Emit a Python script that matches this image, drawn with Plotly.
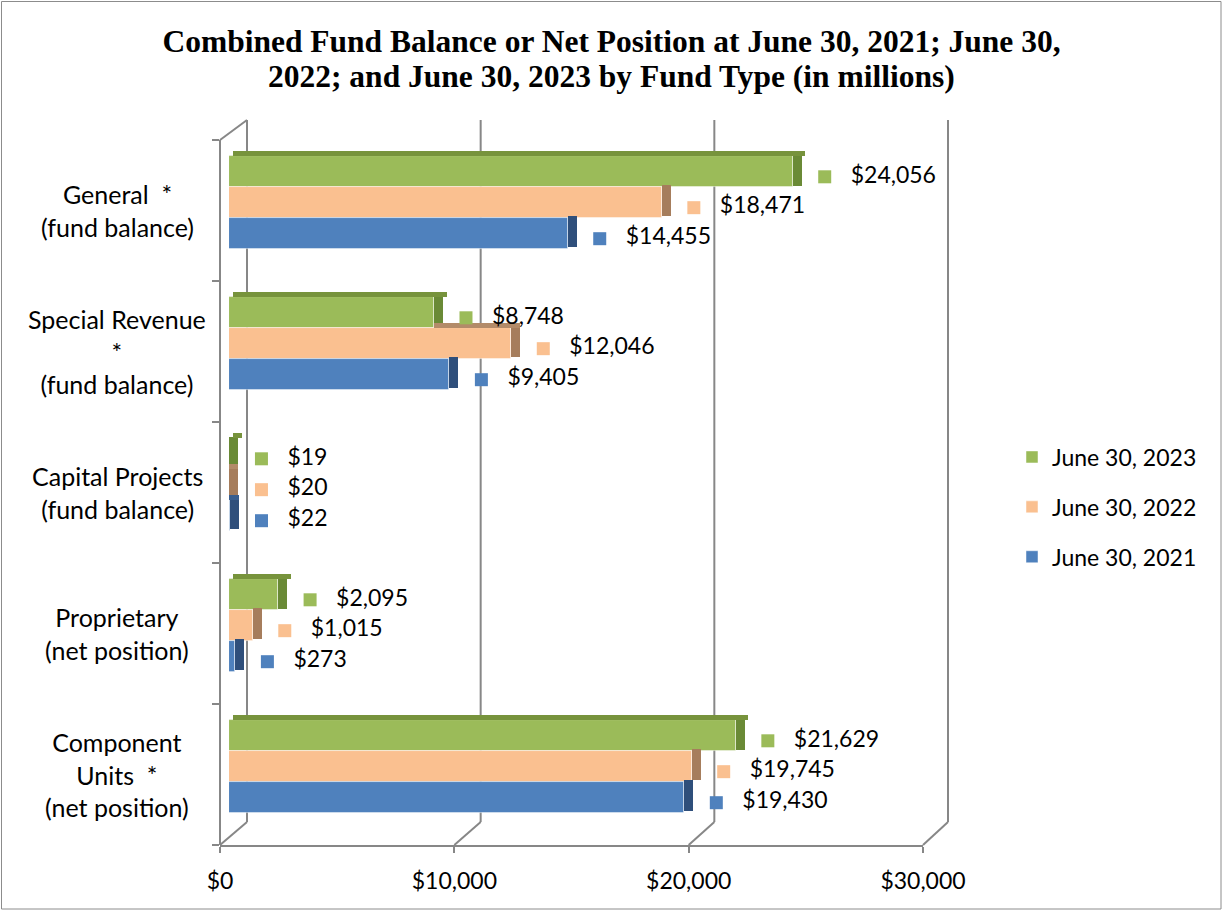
import plotly.graph_objects as go

# ---------------- data ----------------
categories = ["General", "Special Revenue", "Capital Projects", "Proprietary", "Component Units"]
category_labels = [
    "General\u00a0\u00a0*<br>(fund balance)",
    "Special Revenue<br>*<br>(fund balance)",
    "Capital Projects<br>(fund balance)",
    "Proprietary<br>(net position)",
    "Component<br>Units\u00a0\u00a0*<br>(net position)",
]
series_names = ["June 30, 2023", "June 30, 2022", "June 30, 2021"]
values_2023 = [24056, 8748, 19, 2095, 21629]
values_2022 = [18471, 12046, 20, 1015, 19745]
values_2021 = [14455, 9405, 22, 273, 19430]
x_tick_values = [0, 10000, 20000, 30000]
x_tick_labels = ["$0", "$10,000", "$20,000", "$30,000"]
title_line1 = "Combined Fund Balance or Net Position at June 30, 2021; June 30,"
title_line2 = "2022; and June 30, 2023 by Fund Type (in millions)"

# ---------------- styling ----------------
W, H = 1223, 911
ML, MR, MT, MB = 220, 300, 140, 66
PW, PH = W - ML - MR, H - MT - MB
FONT = "Lato"
front_colors = ["#9BBB59", "#FAC090", "#4F81BD"]
side_colors = ["#6A8A36", "#A67D5C", "#2F4F7B"]
top_colors = ["#77933C", "#B38B69", "#3A5F8F"]
frame_color = "#878787"
bar_offsets = [-0.277, -0.058, 0.162]
bar_w = 0.22
depth_px = 9
unit_per_px = 30000 / PW
side_w = depth_px * unit_per_px
top_h = 5 / (PH / 5)
title_font = dict(family="Liberation Serif", size=31.5, color="black", weight="bold")

series_values = [values_2023, values_2022, values_2021]
cat_idx = list(range(len(categories)))

fig = go.Figure()

# empty trace so the front (tick) axis subplot exists
fig.add_trace(go.Scatter(x=[], y=[], xaxis="x", yaxis="y", showlegend=False, hoverinfo="skip"))

# front faces
for k, (name, vals) in enumerate(zip(series_names, series_values)):
    fig.add_trace(go.Bar(
        y=[i + bar_offsets[k] for i in cat_idx], x=vals, orientation="h",
        width=bar_w, marker=dict(color=front_colors[k], line=dict(width=0.8, color="rgba(255,255,255,0.6)")),
        name=name, legendgroup=name, xaxis="x2", yaxis="y", hoverinfo="skip",
    ))
# side faces
for k, vals in enumerate(series_values):
    fig.add_trace(go.Bar(
        y=[i + bar_offsets[k] - 0.01 for i in cat_idx], x=[side_w] * len(vals), base=vals,
        orientation="h", width=bar_w, marker=dict(color=side_colors[k], line=dict(width=0)),
        showlegend=False, xaxis="x2", yaxis="y", hoverinfo="skip",
    ))
# top faces (visible part only)
for k, vals in enumerate(series_values):
    above = [0] * len(vals) if k == 0 else series_values[k - 1]
    ys, xs, bs = [], [], []
    for i, v in enumerate(vals):
        b = above[i] if k > 0 else 0
        if v > b:
            ys.append(i + bar_offsets[k] - bar_w / 2 - top_h / 2)
            xs.append(v - b + side_w)
            bs.append(b + (0 if k > 0 else 150))
    fig.add_trace(go.Bar(
        y=ys, x=xs, base=bs, orientation="h", width=top_h,
        marker=dict(color=top_colors[k], line=dict(width=0)),
        showlegend=False, xaxis="x2", yaxis="y", hoverinfo="skip",
    ))
# data labels: square marker + text
for k, vals in enumerate(series_values):
    ys = [i + bar_offsets[k] + 0.038 for i in cat_idx]
    fig.add_trace(go.Scatter(
        x=[v + 32 * unit_per_px for v in vals], y=ys, mode="markers",
        marker=dict(symbol="square", size=13, color=front_colors[k]),
        showlegend=False, xaxis="x2", yaxis="y", cliponaxis=False, hoverinfo="skip",
    ))
    fig.add_trace(go.Scatter(
        x=[v + 58 * unit_per_px for v in vals], y=ys, mode="text",
        text=["$" + f"{v:,}" for v in vals], textposition="middle right",
        textfont=dict(family=FONT, size=23, color="black"),
        showlegend=False, xaxis="x2", yaxis="y", cliponaxis=False, hoverinfo="skip",
    ))

# ---------------- 3D frame decorations (paper coords) ----------------
def px_x(p):
    return (p - ML) / PW

def px_y(p):
    return (MT + PH - p) / PH

def front_px(v):
    return ML + v / 30000 * PW

def back_px(v):
    return 247 + v / 30000 * 701

back_top, back_bottom = 120, 822
front_top, front_bottom = MT, MT + PH
shapes = []
line = dict(color=frame_color, width=2)
for v in x_tick_values:
    shapes.append(dict(type="line", xref="paper", yref="paper", layer="below",
                       x0=px_x(back_px(v)), x1=px_x(back_px(v)),
                       y0=px_y(back_bottom), y1=px_y(back_top), line=line))
    shapes.append(dict(type="line", xref="paper", yref="paper", layer="below",
                       x0=px_x(front_px(v)), x1=px_x(back_px(v)),
                       y0=px_y(front_bottom), y1=px_y(back_bottom), line=line))
shapes.append(dict(type="line", xref="paper", yref="paper", layer="below",
                   x0=px_x(front_px(0)), x1=px_x(back_px(0)),
                   y0=px_y(front_top), y1=px_y(back_top), line=line))
shapes.append(dict(type="rect", xref="paper", yref="paper", layer="below",
                   x0=px_x(1.5), x1=px_x(W - 2), y0=px_y(H - 2), y1=px_y(1.5),
                   line=dict(color="#8C8C8C", width=1)))

annotations = [
    dict(x=px_x(117), y=i, xref="paper", yref="y", text=lbl, showarrow=False,
         align="center", xanchor="center", yanchor="middle",
         font=dict(family=FONT, size=25, color="black"))
    for i, lbl in zip(cat_idx, category_labels)
]
annotations.append(dict(x=px_x(W / 2), y=px_y(77), xref="paper", yref="paper", text=title_line2,
                        showarrow=False, xanchor="center", yanchor="middle", font=title_font))

fig.update_layout(
    width=W, height=H,
    margin=dict(l=ML, r=MR, t=MT, b=MB, pad=0),
    paper_bgcolor="white", plot_bgcolor="rgba(0,0,0,0)",
    barmode="overlay", bargap=0,
    title=dict(text=title_line1, x=0.5, xanchor="center", xref="container",
               y=1 - 41 / H, yanchor="middle", yref="container", font=title_font),
    xaxis=dict(domain=[0, 1], range=[0, 30000], tickvals=x_tick_values, ticktext=x_tick_labels,
               ticks="outside", ticklen=6, tickwidth=2, tickcolor=frame_color,
               showline=True, linecolor=frame_color, linewidth=2,
               showgrid=False, zeroline=False, anchor="y", ticklabelstandoff=8,
               tickfont=dict(family=FONT, size=23, color="black"), fixedrange=True),
    xaxis2=dict(domain=[depth_px / PW, 1], range=[0, 30000 * (PW - depth_px) / PW],
                visible=False, anchor="y", showgrid=False, zeroline=False),
    yaxis=dict(domain=[0, 1], range=[len(categories) - 0.5, -0.5],
               tickvals=[i - 0.5 for i in range(len(categories) + 1)],
               ticktext=[""] * (len(categories) + 1),
               ticks="outside", ticklen=7, tickwidth=2, tickcolor=frame_color,
               showline=True, linecolor=frame_color, linewidth=2,
               showgrid=False, zeroline=False, anchor="free", position=0),
    legend=dict(x=px_x(1012), y=px_y(507), xanchor="left", yanchor="middle",
                traceorder="grouped", tracegroupgap=17,
                font=dict(family=FONT, size=23, color="black"),
                bgcolor="rgba(0,0,0,0)", itemwidth=30),
    shapes=shapes,
    annotations=annotations,
    showlegend=True,
)

fig.write_html("out.html", config={"displayModeBar": False},
               post_script="document.body.style.margin='0';")
